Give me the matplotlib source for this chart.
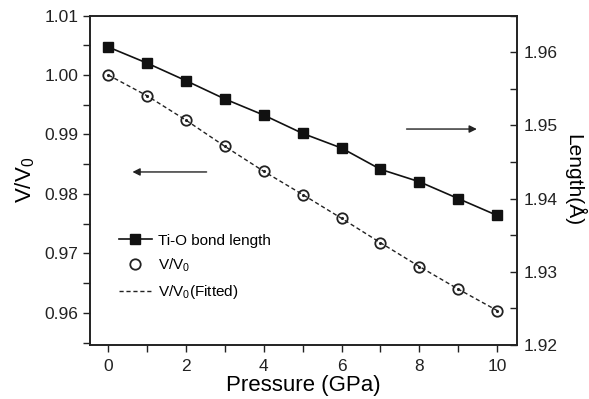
import matplotlib
matplotlib.use("Agg")
import matplotlib.pyplot as plt
from matplotlib.ticker import MultipleLocator, FormatStrFormatter

plt.rcParams['font.family'] = ['Liberation Sans', 'DejaVu Sans']
plt.rcParams['mathtext.fontset'] = 'custom'
plt.rcParams['mathtext.rm'] = 'Liberation Sans'
plt.rcParams['mathtext.it'] = 'Liberation Sans'

pressure = [0, 1, 2, 3, 4, 5, 6, 7, 8, 9, 10]
v_ratio = [1.0000, 0.9965, 0.9924, 0.9880, 0.9838, 0.9799, 0.9759, 0.9718, 0.9678, 0.9640, 0.9604]
bond_length = [1.9607, 1.9585, 1.9561, 1.9536, 1.9514, 1.9489, 1.9469, 1.9440, 1.9423, 1.9400, 1.9377]

fig = plt.figure(figsize=(5.89, 3.99), dpi=100)
ax = fig.add_axes([0.1528, 0.1353, 0.7242, 0.8257])
ax2 = ax.twinx()

l_fit, = ax.plot(pressure, v_ratio, ls=(0, (3, 2)), color='#222222', lw=1.0,
                 label='V/V$_\\mathrm{0}$(Fitted)')
l_pts, = ax.plot(pressure, v_ratio, ls='none', marker='o', markersize=7.5,
                 markerfacecolor='none', markeredgecolor='#222222', markeredgewidth=1.3,
                 label='V/V$_\\mathrm{0}$')
ax.plot(pressure, v_ratio, ls='none', marker='.', markersize=2.5, color='#222222')
l_bond, = ax2.plot(pressure, bond_length, ls='-', color='#111111', lw=1.2,
                   marker='s', markersize=7.5, markerfacecolor='#111111', label='Ti-O bond length')

ax.set_xlim(-0.47, 10.5)
ax.set_ylim(0.9546, 1.01)
ax2.set_ylim(1.92, 1.965)

ax.xaxis.set_major_locator(MultipleLocator(2))
ax.xaxis.set_minor_locator(MultipleLocator(1))
ax.yaxis.set_major_locator(MultipleLocator(0.01))
ax.yaxis.set_minor_locator(MultipleLocator(0.005))
ax2.yaxis.set_major_locator(MultipleLocator(0.01))
ax2.yaxis.set_minor_locator(MultipleLocator(0.005))
ax.yaxis.set_major_formatter(FormatStrFormatter('%.2f'))
ax2.yaxis.set_major_formatter(FormatStrFormatter('%.2f'))

ax.tick_params(axis='both', which='both', direction='out', labelsize=12.5, colors='#222222')
ax.tick_params(which='both', length=5, width=1)
ax.tick_params(axis='x', pad=5)
ax2.tick_params(axis='y', which='both', direction='in', labelsize=12.5, colors='#222222')
ax2.tick_params(which='both', length=5, width=1, pad=5)

for a in (ax, ax2):
    for s in a.spines.values():
        s.set_linewidth(1.2)
        s.set_color('#222222')

ax.set_xlabel('Pressure (GPa)', fontsize=16, labelpad=1)
ax.set_ylabel('V/V$_\\mathrm{0}$', fontsize=16, labelpad=5)
ax2.set_ylabel('Length(Å)', fontsize=15, rotation=270, labelpad=20)

ax.annotate('', xy=(0.55, 0.9837), xytext=(2.6, 0.9837),
            arrowprops=dict(arrowstyle='-|>', color='#222222', lw=1.0, mutation_scale=11))
ax2.annotate('', xy=(9.55, 1.9495), xytext=(7.6, 1.9495),
             arrowprops=dict(arrowstyle='-|>', color='#222222', lw=1.0, mutation_scale=11))

leg = ax.legend(handles=[l_bond, l_pts, l_fit], loc='upper left',
                bbox_to_anchor=(0.035, 0.38), frameon=False, fontsize=11,
                handlelength=2.2, handletextpad=0.4, labelspacing=0.6)

fig.savefig('out.png', dpi=100)
